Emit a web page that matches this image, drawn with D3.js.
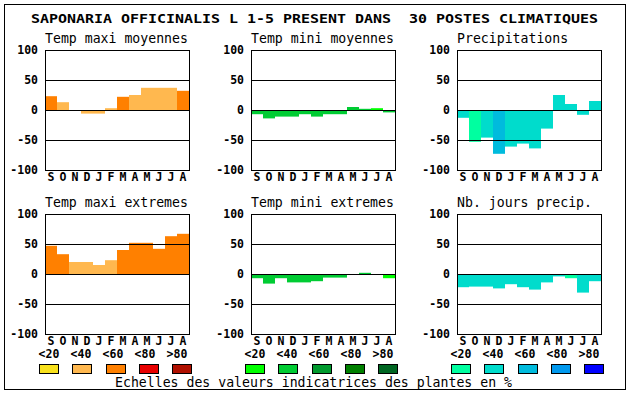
<!DOCTYPE html>
<html>
<head>
<meta charset="utf-8">
<script src="https://cdn.jsdelivr.net/npm/d3@7"></script>
<style>
  body { margin: 0; background: #fff; }
  svg { display: block; }
</style>
</head>
<body>
<div id="chart"></div>
<script>
const months = ["S", "O", "N", "D", "J", "F", "M", "A", "M", "J", "J", "A"];
const yTicks = [-100, -50, 0, 50, 100];
const gridTicks = [-50, 0, 50];
const classLabels = ["<20", "<40", "<60", "<80", ">80"];

const tempColors = ["#f8e11c", "#ffb84f", "#ff8000", "#e80000", "#b01000"];
const minColors = ["#00ff00", "#00cc33", "#009a2e", "#008000", "#006622"];
const precColors = ["#00ffa0", "#00dccc", "#00bbdd", "#0099ee", "#0000ff"];

// values per month (S..A) and colour class per month
const tmaxMoy = [23, 13, 0, -6, -6, 3, 22, 25, 37, 37, 37, 32];
const tmaxMoyCls = [2, 1, 1, 1, 1, 1, 2, 1, 1, 1, 1, 2];
const tminMoy = [-7, -14, -11, -11, -7, -11, -7, -7, 5, 2, 3, -4];
const tminMoyCls = [1, 1, 1, 1, 1, 1, 1, 1, 1, 1, 0, 1];
const precip = [-13, -53, -46, -73, -61, -56, -64, -31, 25, 10, -8, 15];
const precipCls = [1, 0, 1, 2, 1, 1, 1, 1, 1, 1, 1, 1];
const tmaxExt = [47, 33, 20, 20, 15, 23, 40, 52, 52, 42, 63, 67];
const tmaxExtCls = [2, 2, 1, 1, 1, 1, 2, 2, 2, 2, 2, 2];
const tminExt = [-7, -16, -7, -14, -14, -12, -6, -6, 0, 2, 0, -7];
const tminExtCls = [1, 1, 1, 1, 1, 1, 1, 1, 1, 1, 1, 0];
const nbJours = [-22, -21, -21, -24, -17, -22, -26, -14, -4, -7, -31, -12];
const nbJoursCls = [1, 1, 1, 1, 1, 1, 1, 1, 1, 0, 1, 1];

const panels = [
  { title: "Temp maxi moyennes", values: tmaxMoy, cls: tmaxMoyCls, colors: tempColors, col: 0, row: 0 },
  { title: "Temp mini moyennes", values: tminMoy, cls: tminMoyCls, colors: minColors, col: 1, row: 0 },
  { title: "Precipitations", values: precip, cls: precipCls, colors: precColors, col: 2, row: 0 },
  { title: "Temp maxi extremes", values: tmaxExt, cls: tmaxExtCls, colors: tempColors, col: 0, row: 1 },
  { title: "Temp mini extremes", values: tminExt, cls: tminExtCls, colors: minColors, col: 1, row: 1 },
  { title: "Nb. jours precip.", values: nbJours, cls: nbJoursCls, colors: precColors, col: 2, row: 1 }
];

const width = 630;
const height = 394;
const mono = "'DejaVu Sans Mono', monospace";

const colX = [45, 251, 457];
const rowY = [50, 214];
const plotW = 144;
const plotH = 120;

const x = d3.scaleBand().domain(d3.range(12)).range([0, plotW]).padding(0);
const y = d3.scaleLinear().domain([-100, 100]).range([plotH, 0]);

const svg = d3
  .create("svg")
  .attr("width", width)
  .attr("height", height)
  .attr("viewBox", `0 0 ${width} ${height}`);

svg
  .append("rect")
  .attr("x", 4.5)
  .attr("y", 4.5)
  .attr("width", 621)
  .attr("height", 385)
  .attr("fill", "#fff")
  .attr("stroke", "#000");

svg
  .append("text")
  .attr("x", 31)
  .attr("y", 22.5)
  .attr("textLength", 567)
  .attr("lengthAdjust", "spacingAndGlyphs")
  .style("font", `bold 13px ${mono}`)
  .style("white-space", "pre")
  .attr("xml:space", "preserve")
  .text("SAPONARIA OFFICINALIS L 1-5 PRESENT DANS  30 POSTES CLIMATIQUES");

panels.forEach((p) => {
  const g = svg
    .append("g")
    .attr("transform", `translate(${colX[p.col]},${rowY[p.row]})`);

  g.append("text")
    .attr("x", 0)
    .attr("y", -7)
    .style("font", `13.2px ${mono}`)
    .text(p.title);

  // bars
  g.append("g")
    .selectAll("rect")
    .data(p.values)
    .join("rect")
    .attr("x", (d, i) => x(i))
    .attr("width", x.bandwidth())
    .attr("y", (d) => y(Math.max(0, d)))
    .attr("height", (d) => Math.abs(y(d) - y(0)))
    .attr("fill", (d, i) => p.colors[p.cls[i]]);

  // grid lines
  g.append("g")
    .selectAll("line")
    .data(gridTicks)
    .join("line")
    .attr("x1", 0)
    .attr("x2", plotW)
    .attr("y1", (d) => Math.round(y(d)) + 0.5)
    .attr("y2", (d) => Math.round(y(d)) + 0.5)
    .attr("stroke", "#000");

  g.append("rect")
    .attr("x", 0.5)
    .attr("y", 0.5)
    .attr("width", plotW)
    .attr("height", plotH)
    .attr("fill", "none")
    .attr("stroke", "#000");

  const yAxis = g
    .append("g")
    .call(
      d3
        .axisLeft(y)
        .tickValues(yTicks)
        .tickSize(0)
        .tickPadding(7)
        .tickFormat((d) => String(d))
    );
  yAxis.select(".domain").remove();
  yAxis.selectAll("text").style("font", `bold 11.5px ${mono}`).attr("fill", "#000");

  const xAxis = g
    .append("g")
    .attr("transform", `translate(0,${plotH})`)
    .call(
      d3
        .axisBottom(x)
        .tickSize(0)
        .tickPadding(3)
        .tickFormat((i) => months[i])
    );
  xAxis.select(".domain").remove();
  xAxis.selectAll("text").style("font", `bold 11.5px ${mono}`).attr("fill", "#000");
});

// legends below each column
const legendColors = [tempColors, minColors, precColors];
const swatchX = d3.scaleLinear().domain([0, 4]).range([4, 137]);
const labelX = d3.scaleLinear().domain([0, 4]).range([4, 132]);

legendColors.forEach((cols, c) => {
  const g = svg.append("g").attr("transform", `translate(${colX[c]},0)`);

  g.selectAll("text")
    .data(classLabels)
    .join("text")
    .attr("x", (d, i) => labelX(i))
    .attr("y", 358)
    .attr("text-anchor", "middle")
    .style("font", `bold 11.5px ${mono}`)
    .text((d) => d);

  g.selectAll("rect")
    .data(cols)
    .join("rect")
    .attr("x", (d, i) => Math.round(swatchX(i) - 10) + 0.5)
    .attr("y", 364.5)
    .attr("width", 19)
    .attr("height", 9)
    .attr("fill", (d) => d)
    .attr("stroke", "#000");
});

svg
  .append("text")
  .attr("x", 115)
  .attr("y", 387)
  .style("font", `13.2px ${mono}`)
  .text("Echelles des valeurs indicatrices des plantes en %");

document.getElementById("chart").append(svg.node());
</script>
</body>
</html>
